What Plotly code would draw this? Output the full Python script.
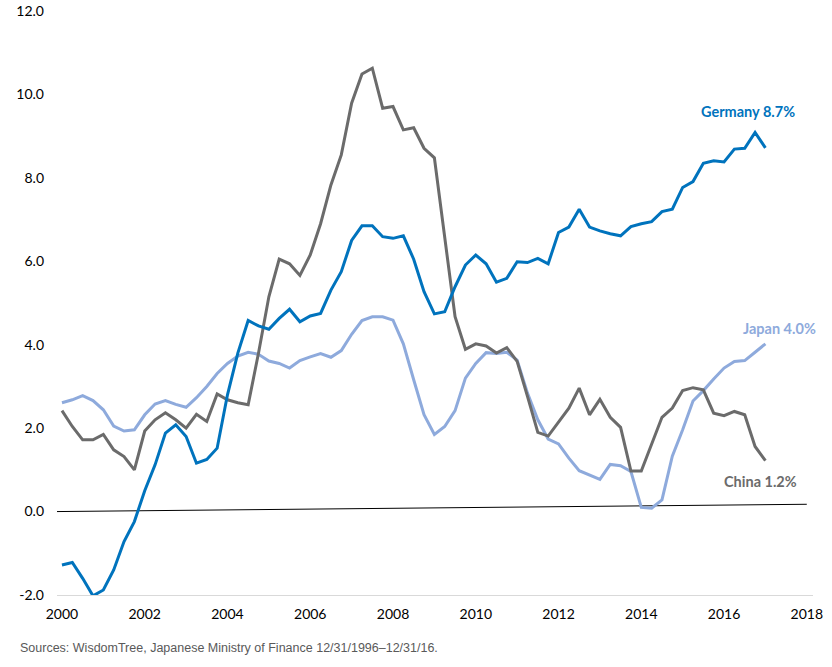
import plotly.graph_objects as go

quarters = [2000 + i * 0.25 for i in range(69)]

germany = [-1.28, -1.22, -1.60, -2.02, -1.88, -1.40, -0.72, -0.24,
           0.50, 1.12, 1.88, 2.08, 1.80, 1.16, 1.25, 1.52,
           2.80, 3.80, 4.58, 4.45, 4.37, 4.63, 4.85, 4.55,
           4.69, 4.75, 5.31, 5.75, 6.50, 6.85, 6.85, 6.59,
           6.55, 6.61, 6.05, 5.27, 4.74, 4.79, 5.39, 5.91,
           6.15, 5.94, 5.50, 5.59, 5.99, 5.97, 6.07, 5.94,
           6.69, 6.82, 7.25, 6.82, 6.73, 6.66, 6.61, 6.83,
           6.90, 6.95, 7.19, 7.25, 7.77, 7.91, 8.35, 8.41,
           8.38, 8.69, 8.71, 9.09, 8.72]

china = [2.42, 2.04, 1.72, 1.72, 1.85, 1.48, 1.32, 1.00,
         1.93, 2.20, 2.37, 2.20, 2.00, 2.33, 2.16, 2.82,
         2.68, 2.61, 2.56, 3.80, 5.15, 6.05, 5.94, 5.66,
         6.15, 6.90, 7.83, 8.55, 9.79, 10.49, 10.63, 9.67,
         9.71, 9.15, 9.20, 8.71, 8.48, 6.55, 4.67, 3.89,
         4.02, 3.97, 3.80, 3.93, 3.60, 2.76, 1.90, 1.81,
         2.16, 2.48, 2.96, 2.32, 2.69, 2.26, 2.02, 0.97,
         0.97, 1.62, 2.26, 2.48, 2.90, 2.97, 2.92, 2.36,
         2.30, 2.40, 2.32, 1.56, 1.22]

japan = [2.61, 2.68, 2.78, 2.66, 2.44, 2.05, 1.93, 1.96,
         2.32, 2.58, 2.66, 2.57, 2.50, 2.73, 3.00, 3.31,
         3.55, 3.73, 3.82, 3.77, 3.61, 3.55, 3.44, 3.62,
         3.71, 3.79, 3.70, 3.86, 4.25, 4.58, 4.67, 4.67,
         4.59, 4.02, 3.16, 2.32, 1.85, 2.04, 2.42, 3.20,
         3.55, 3.81, 3.79, 3.82, 3.63, 2.84, 2.20, 1.74,
         1.62, 1.28, 0.98, 0.88, 0.77, 1.13, 1.10, 0.96,
         0.10, 0.08, 0.28, 1.33, 1.96, 2.65, 2.90, 3.18,
         3.44, 3.60, 3.62, 3.82, 4.02]

ref_line_x = [1999.88, 2018.0]
ref_line_y = [0.0, 0.175]

x_ticks = [2000, 2002, 2004, 2006, 2008, 2010, 2012, 2014, 2016, 2018]
y_ticks = [-2, 0, 2, 4, 6, 8, 10, 12]
y_tick_labels = ["-2.0", "0.0", "2.0", "4.0", "6.0", "8.0", "10.0", "12.0"]

labels = ["Germany 8.7%", "Japan 4.0%", "China 1.2%"]

C_GER = "#0073BD"
C_JPN = "#8EAADC"
C_CHN = "#6B6B6B"

fig = go.Figure()
fig.add_trace(go.Scatter(x=ref_line_x, y=ref_line_y, mode="lines",
                         line=dict(color="black", width=1), hoverinfo="skip"))
fig.add_trace(go.Scatter(x=quarters, y=japan, mode="lines",
                         line=dict(color=C_JPN, width=3), name="Japan"))
fig.add_trace(go.Scatter(x=quarters, y=china, mode="lines",
                         line=dict(color=C_CHN, width=3), name="China"))
fig.add_trace(go.Scatter(x=quarters, y=germany, mode="lines",
                         line=dict(color=C_GER, width=3), name="Germany"))

afont = dict(family="Lato", size=14.5)
fig.add_annotation(x=2016.59, y=9.6, text="<b>" + labels[0] + "</b>", showarrow=False,
                   font=dict(color=C_GER, **afont), xanchor="center", yanchor="middle")
fig.add_annotation(x=2017.35, y=4.4, text="<b>" + labels[1] + "</b>", showarrow=False,
                   font=dict(color=C_JPN, **afont), xanchor="center", yanchor="middle")
fig.add_annotation(x=2016.89, y=0.73, text="<b>" + labels[2] + "</b>", showarrow=False,
                   font=dict(color=C_CHN, **afont), xanchor="center", yanchor="middle")

fig.add_annotation(xref="paper", yref="paper", x=-0.0516, y=-0.0908,
                   text="Sources: WisdomTree, Japanese Ministry of Finance 12/31/1996\u201312/31/16.",
                   showarrow=False, xanchor="left", yanchor="middle",
                   font=dict(family="Liberation Sans", size=12.5, color="#595959"))

fig.update_layout(
    width=832, height=667,
    margin=dict(l=57, r=19, t=11, b=72),
    paper_bgcolor="white", plot_bgcolor="white",
    showlegend=False,
    font=dict(family="Lato", size=14, color="black"),
    xaxis=dict(range=[1999.88, 2018.15], tickvals=x_ticks,
               ticktext=[str(t) for t in x_ticks], showgrid=False, zeroline=False,
               showline=True, linecolor="#D9D9D9", linewidth=1, ticks="",
               ticklabelstandoff=6, automargin=False),
    yaxis=dict(range=[-2, 12], tickvals=y_ticks, ticktext=y_tick_labels,
               showgrid=False, zeroline=False, showline=False, ticks="",
               ticklabelstandoff=12, automargin=False),
)

fig.write_html("out.html")
